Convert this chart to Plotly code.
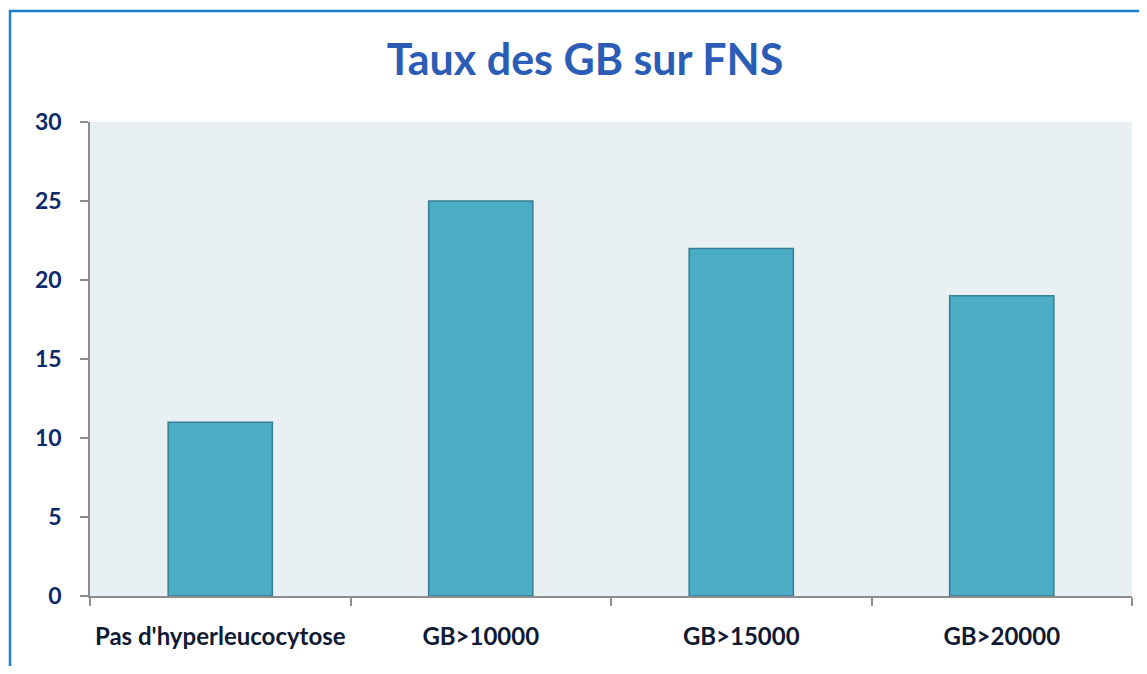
import plotly.graph_objects as go

categories = ["Pas d'hyperleucocytose", "GB>10000", "GB>15000", "GB>20000"]
values = [11, 25, 22, 19]
y_ticks = [0, 5, 10, 15, 20, 25, 30]

# page has an 8px body margin; build figure to fit inside it
OFF = 8
W, H = 1147 - 2 * OFF, 674 - 2 * OFF
# plot area in page pixels: x 90..1132, y 122..596
L, T = 90 - OFF, 122 - OFF
R = W - (1132 - OFF)
B = H - (596 - OFF)
pw, ph = W - L - R, H - T - B


def px_x(x):  # page pixel -> paper x
    return (x - 90) / pw


def px_y(y):  # page pixel -> paper y
    return (596 - y) / ph


font_fam = "Lato, Open Sans, sans-serif"

fig = go.Figure()
fig.add_trace(go.Bar(
    x=categories, y=values,
    marker=dict(color="#4BACC6", line=dict(color="#357F94", width=1.5)),
    width=0.4,
))

fig.update_layout(
    width=W, height=H,
    margin=dict(l=L, r=R, t=T, b=B, pad=0),
    paper_bgcolor="white",
    plot_bgcolor="#E9F0F4",
    showlegend=False,
    title=dict(
        text="<b>Taux des GB sur FNS</b>",
        x=px_x(585), xref="paper", xanchor="center",
        y=1 - (60 - OFF) / H, yanchor="middle",
        font=dict(family=font_fam, size=43, color="#2C5DB6"),
    ),
    xaxis=dict(
        showgrid=False, showline=True, linecolor="#8C8C8C", linewidth=1.5,
        ticks="outside", ticklen=8, tickcolor="#8C8C8C", tickwidth=1.5,
        tickson="boundaries", ticklabelstandoff=18,
        tickfont=dict(family=font_fam, size=24, color="#111A33", weight="bold"),
        range=[-0.5, 3.5],
    ),
    yaxis=dict(
        range=[0, 30], tickvals=y_ticks,
        showgrid=False, showline=True, linecolor="#8C8C8C", linewidth=1.5,
        ticks="outside", ticklen=8, tickcolor="#8C8C8C", tickwidth=1.5,
        ticklabelstandoff=14, zeroline=False,
        tickfont=dict(family=font_fam, size=23, color="#0E2A6B", weight="bold"),
    ),
    shapes=[dict(
        type="rect", xref="paper", yref="paper",
        x0=px_x(10), x1=px_x(1300), y0=px_y(800), y1=px_y(11),
        line=dict(color="#1E7FD0", width=2.5), fillcolor="rgba(0,0,0,0)", layer="below",
    )],
)

fig.write_html("out.html")
